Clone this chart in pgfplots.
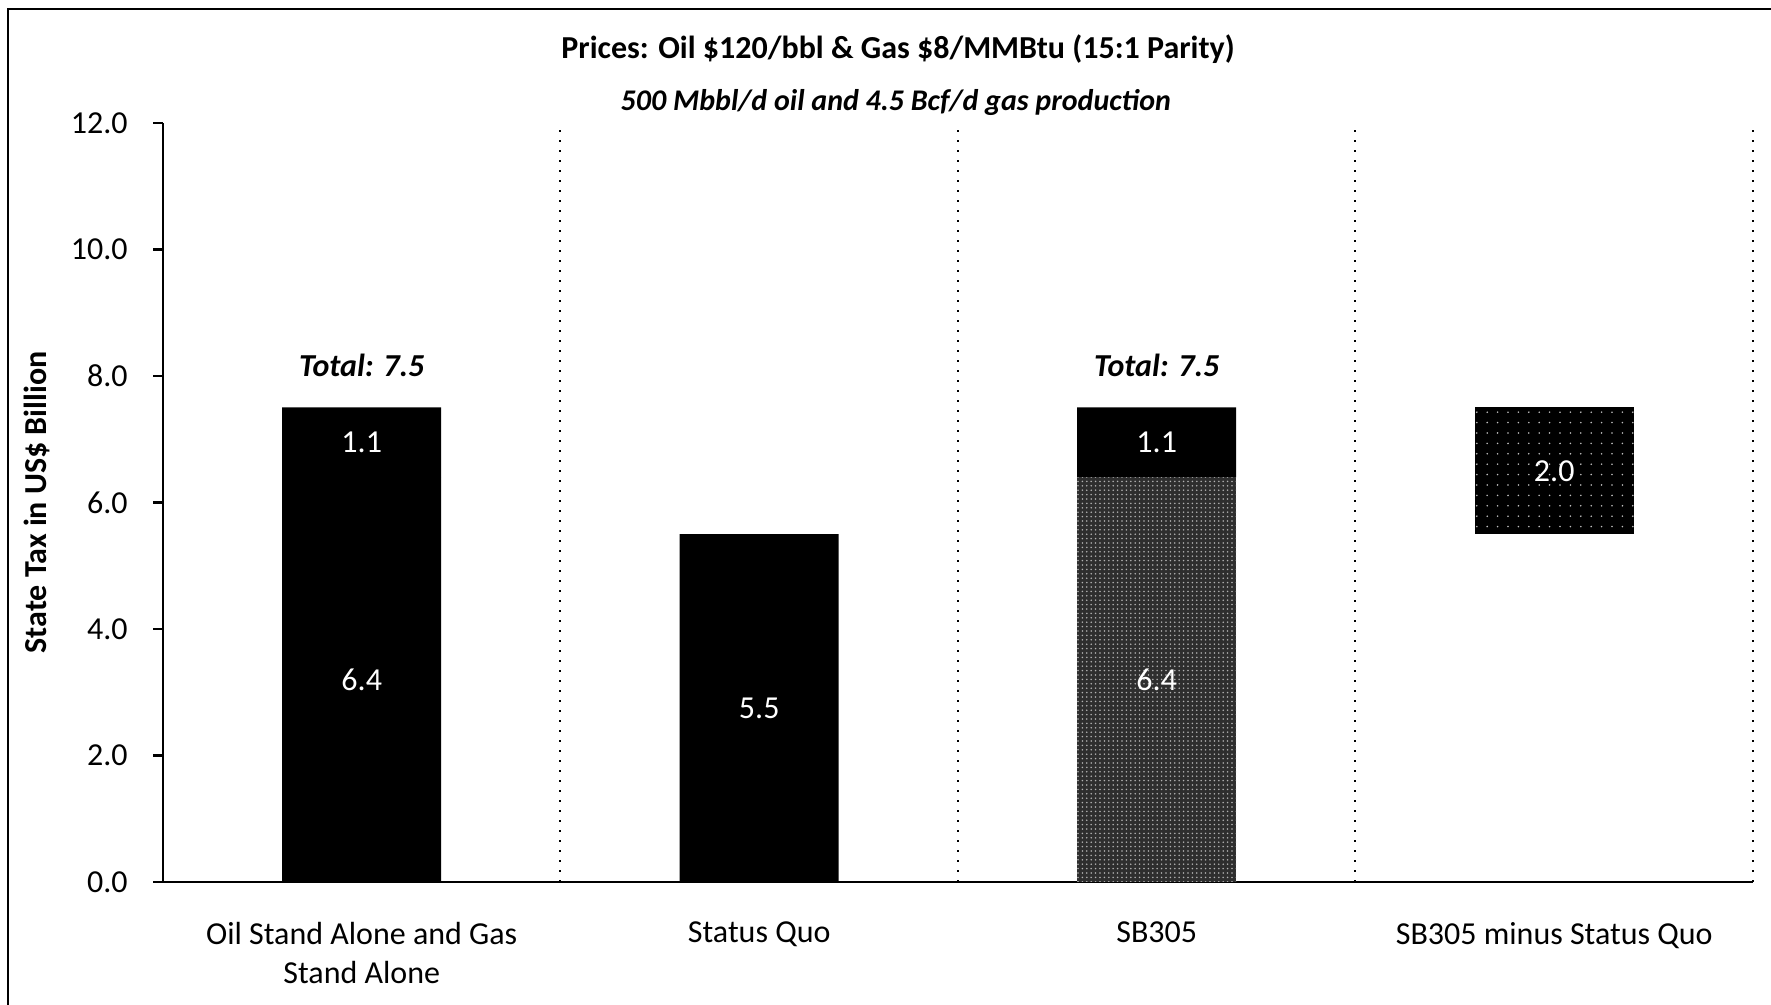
\documentclass[border=0pt]{standalone}
\usepackage{fontspec}
\setmainfont{Carlito}
\usepackage{pgfplots}
\pgfplotsset{compat=1.18}
\usetikzlibrary{patterns}

% speckle fills for the SB305 segments
\pgfdeclarepatternformonly{finespeckle}{\pgfqpoint{-0.5pt}{-0.5pt}}{\pgfqpoint{1pt}{1pt}}{\pgfqpoint{1.1pt}{1.1pt}}{%
  \pgfpathcircle{\pgfqpoint{0pt}{0pt}}{0.22pt}\pgfusepath{fill}}
\pgfdeclarepatternformonly{sparsespeckle}{\pgfqpoint{-0.5pt}{-0.5pt}}{\pgfqpoint{2.5pt}{2.5pt}}{\pgfqpoint{2.6pt}{2.6pt}}{%
  \pgfpathcircle{\pgfqpoint{0pt}{0pt}}{0.22pt}\pgfusepath{fill}}

\begin{document}
\begin{tikzpicture}
\useasboundingbox (-40.75pt,-30.75pt) rectangle (402pt,220.5pt);
% outer frame (its right and bottom edges fall off the page)
\draw[line width=0.7pt] (-38.75pt,-40pt) -- (-38.75pt,218.25pt) -- (420pt,218.25pt);

\begin{axis}[
  at={(0pt,0pt)}, anchor=south west,
  scale only axis, width=397.5pt, height=189.8pt,
  xmin=-0.5, xmax=3.5, ymin=0, ymax=12,
  ybar stacked, bar width=0.4,
  axis x line*=bottom, axis y line*=left,
  axis line style={black, line width=0.7pt},
  xtick={0,1,2,3},
  xticklabels={Oil Stand Alone and Gas Stand Alone,Status Quo,SB305,SB305 minus Status Quo},
  xticklabel style={text width=92pt, align=flush center, yshift=-4pt, font=\fontsize{8}{9.9}\selectfont},
  xtick style={draw=none},
  ytick={0,2,4,6,8,10,12},
  yticklabels={0.0,2.0,4.0,6.0,8.0,10.0,12.0},
  yticklabel style={xshift=-2.8pt, font=\fontsize{8}{9.9}\selectfont},
  ytick style={black, line width=0.6pt},
  tick align=outside, major tick length=2.5pt,
  ylabel={State Tax in US\$ Billion},
  ylabel style={at={(axis description cs:-0.079,0.5)}, anchor=center, font=\bfseries\fontsize{8}{9.9}\selectfont},
  clip=false,
]
% bottom segments
\addplot[fill=black, draw=none] coordinates {(0,6.4) (1,5.5) (2,0) (3,0)};
\addplot[fill=black!82, draw=none, postaction={pattern=finespeckle, pattern color=white!70!black}] coordinates {(0,0) (1,0) (2,6.4) (3,0)};
\addplot[fill=white, fill opacity=0, draw=none] coordinates {(0,0) (1,0) (2,0) (3,5.5)};
% top segments
\addplot[fill=black, draw=none] coordinates {(0,1.1) (1,0) (2,1.1) (3,0)};
\addplot[fill=black, draw=none, postaction={pattern=sparsespeckle, pattern color=white!75!black}] coordinates {(0,0) (1,0) (2,0) (3,2.0)};

% category separators
\draw[black, dotted, line width=0.5pt] (axis cs:0.5,0) -- (axis cs:0.5,12);
\draw[black, dotted, line width=0.5pt] (axis cs:1.5,0) -- (axis cs:1.5,12);
\draw[black, dotted, line width=0.5pt] (axis cs:2.5,0) -- (axis cs:2.5,12);
\draw[black, dotted, line width=0.5pt] (axis cs:3.5,0) -- (axis cs:3.5,12);

% label anchors: segment midpoints and totals
\coordinate (a1) at (axis cs:0,3.2);
\coordinate (a2) at (axis cs:0,6.95);
\coordinate (b1) at (axis cs:1,2.75);
\coordinate (c1) at (axis cs:2,3.2);
\coordinate (c2) at (axis cs:2,6.95);
\coordinate (d1) at (axis cs:3,6.5);
\coordinate (ta) at (axis cs:0,8.16);
\coordinate (tc) at (axis cs:2,8.16);
\end{axis}

% segment values, set on top of the bars
\node[text=white, font=\fontsize{8}{9.9}\selectfont] at (a1) {6.4};
\node[text=white, font=\fontsize{8}{9.9}\selectfont] at (a2) {1.1};
\node[text=white, font=\fontsize{8}{9.9}\selectfont] at (b1) {5.5};
\node[text=white, font=\fontsize{8}{9.9}\selectfont] at (c1) {6.4};
\node[text=white, font=\fontsize{8}{9.9}\selectfont] at (c2) {1.1};
\node[text=white, font=\fontsize{8}{9.9}\selectfont] at (d1) {2.0};
\node[font=\bfseries\itshape\fontsize{8}{9.9}\selectfont] at (ta) {Total: 7.5};
\node[font=\bfseries\itshape\fontsize{8}{9.9}\selectfont] at (tc) {Total: 7.5};

\node[font=\bfseries\fontsize{8}{9.9}\selectfont] at (183.75pt,208.1pt) {Prices: Oil \$120/bbl \& Gas \$8/MMBtu (15:1 Parity)};
\node[font=\bfseries\itshape\fontsize{7.5}{9}\selectfont] at (183.2pt,194.8pt) {500 Mbbl/d oil and 4.5 Bcf/d gas production};
\end{tikzpicture}
\end{document}
